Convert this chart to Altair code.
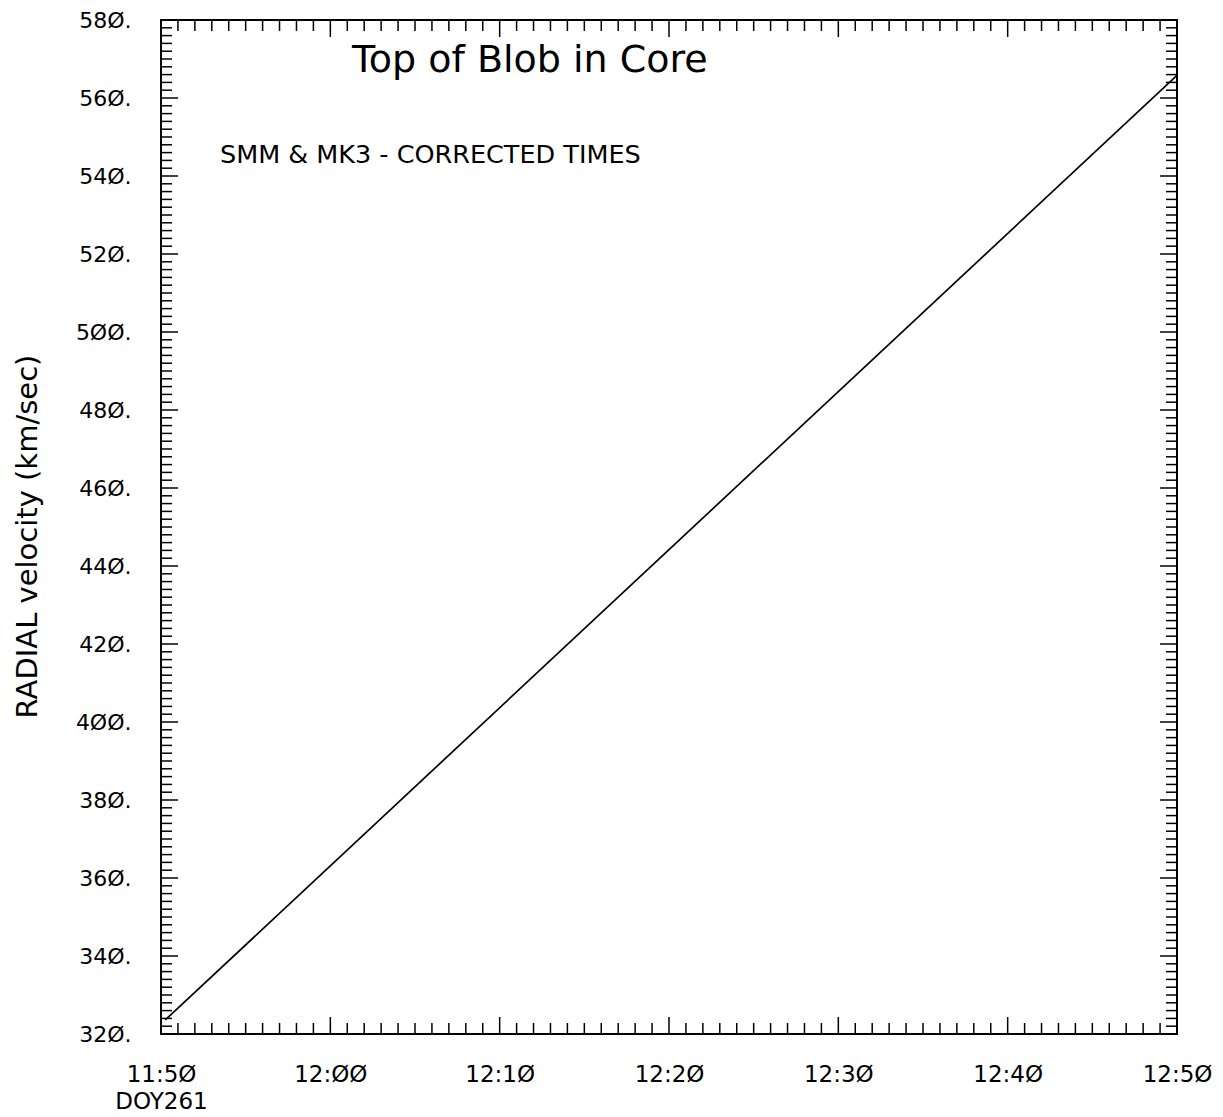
import json
import altair as alt
import pandas as pd

# ---- data ----
times_min = [0.25, 60.0]          # minutes after 11:50 (DOY 261)
velocity = [323.6, 565.8]         # radial velocity, km/sec

x_tick_values = [0, 10, 20, 30, 40, 50, 60]
x_tick_labels = [["11:5Ø", "DOY261"], "12:ØØ", "12:1Ø", "12:2Ø", "12:3Ø", "12:4Ø", "12:5Ø"]
y_tick_values = [320, 340, 360, 380, 400, 420, 440, 460, 480, 500, 520, 540, 560, 580]
y_tick_labels = ["32Ø.", "34Ø.", "36Ø.", "38Ø.", "4ØØ.", "42Ø.", "44Ø.", "46Ø.",
                 "48Ø.", "5ØØ.", "52Ø.", "54Ø.", "56Ø.", "58Ø."]

x_minor = [m for m in range(1, 60) if m % 10]
x_major = [10, 20, 30, 40, 50]
y_minor = [v for v in range(322, 580, 2) if v % 20]
y_major = [340, 360, 380, 400, 420, 440, 460, 480, 500, 520, 540, 560]

title_text = "Top of Blob in Core"
note_text = "SMM & MK3 - CORRECTED TIMES"
y_title = "RADIAL velocity (km/sec)"

W, H = 1016, 1014
FONT = "DejaVu Sans"

xscale = alt.Scale(domain=[0, 60], nice=False, zero=False)
yscale = alt.Scale(domain=[320, 580], nice=False, zero=False)

x_expr = json.dumps(x_tick_labels, ensure_ascii=False) + "[round(datum.value/10)]"
y_expr = json.dumps(y_tick_labels, ensure_ascii=False) + "[round((datum.value-320)/20)]"

xaxis = alt.Axis(values=x_tick_values, labelExpr=x_expr, ticks=False, tickSize=0,
                 domain=False, grid=False, labelPadding=29, labelFontSize=23,
                 labelFont=FONT, labelColor="black", labelLineHeight=27,
                 labelFlush=False, labelOverlap=False, title=None)
yaxis = alt.Axis(values=y_tick_values, labelExpr=y_expr, ticks=False, tickSize=0,
                 domain=False, grid=False, labelPadding=30, labelFontSize=22,
                 labelFont=FONT, labelColor="black", labelFlush=False,
                 labelOverlap=False, title=y_title, titleFont=FONT,
                 titleFontSize=29, titleFontWeight="normal", titleColor="black",
                 titleX=-125, titleY=516, titleAngle=270, titleAlign="center",
                 titleBaseline="alphabetic")

X = lambda: alt.X("x:Q", scale=xscale, axis=xaxis)
Y = lambda: alt.Y("y:Q", scale=yscale, axis=yaxis)

line_df = pd.DataFrame({"x": times_min, "y": velocity})
line = alt.Chart(line_df).mark_line(color="black", strokeWidth=1.7, clip=True).encode(x=X(), y=Y())

def xticks(vals, y0, y1):
    return alt.Chart(pd.DataFrame({"x": vals})).mark_rule(color="black", strokeWidth=1.5).encode(
        x=X(), y=alt.value(y0), y2=alt.value(y1))

def yticks(vals, x0, x1):
    return alt.Chart(pd.DataFrame({"y": vals})).mark_rule(color="black", strokeWidth=1.5).encode(
        y=Y(), x=alt.value(x0), x2=alt.value(x1))

ticks = [
    xticks(x_minor, H, H - 11), xticks(x_major, H, H - 17),
    xticks(x_minor, 0, 11), xticks(x_major, 0, 17),
    yticks(y_minor, 0, 11), yticks(y_major, 0, 17),
    yticks(y_minor, W, W - 11), yticks(y_major, W, W - 17),
]

one = pd.DataFrame({"a": [0]})
title_mark = alt.Chart(one).mark_text(text=title_text, font=FONT, fontSize=38, align="left",
                                      baseline="alphabetic", color="black").encode(
    x=alt.value(191), y=alt.value(52))
note_mark = alt.Chart(one).mark_text(text=note_text, font=FONT, fontSize=25.5, align="left",
                                     baseline="alphabetic", color="black").encode(
    x=alt.value(59), y=alt.value(143))

chart = alt.layer(line, *ticks, title_mark, note_mark).properties(
    width=W, height=H,
    autosize=alt.AutoSizeParams(type="none"),
    padding={"left": 153, "top": 12, "right": 38, "bottom": 80},
    background="white",
).configure_view(stroke="black", strokeWidth=2)

chart.save("out.html", embed_options={"renderer": "svg", "actions": False})
